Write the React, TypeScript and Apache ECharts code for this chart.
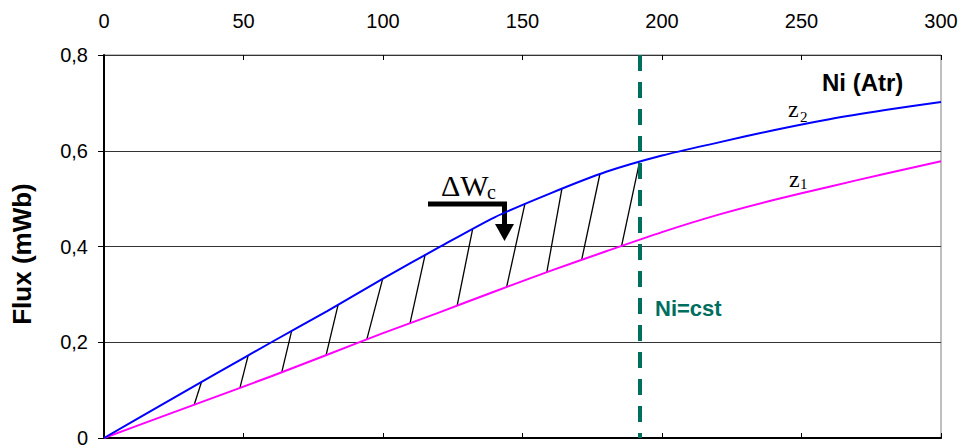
import React, { useEffect, useRef } from "react";
import * as echarts from "echarts";

// Ampere-turns (x) sample points
const niValues = [0, 20, 40, 60, 80, 100, 120, 140, 160, 180, 200, 220, 240, 260, 280, 300];
// Flux curve z2 (blue, upper)
const z2Flux = [0, 0.067, 0.134, 0.2, 0.265, 0.333, 0.398, 0.461, 0.511, 0.556, 0.59, 0.617, 0.643, 0.666, 0.685, 0.702];
// Flux curve z1 (magenta, lower)
const z1Flux = [0, 0.043, 0.086, 0.129, 0.174, 0.219, 0.262, 0.306, 0.349, 0.39, 0.43, 0.466, 0.497, 0.525, 0.552, 0.578];
// Hatch segments: lower end on z1 [Ni, flux], upper end on z2 [Ni, flux]
const hatchLower = [
  [32.3, 0.069], [48.7, 0.104], [63.7, 0.137], [79.6, 0.173], [94.2, 0.206], [109.7, 0.24],
  [126.6, 0.277], [144.3, 0.315], [158.7, 0.346], [171.2, 0.372], [185.5, 0.401],
];
const hatchUpper = [
  [35.0, 0.118], [51.7, 0.173], [67.3, 0.225], [83.9, 0.278], [99.9, 0.333], [115.1, 0.383],
  [132.1, 0.436], [150.9, 0.49], [164.1, 0.52], [177.8, 0.553], [191.9, 0.575],
];
// Constant Ni marker
const niConstant = 192;
const xMin = 0, xMax = 300, xStep = 50;
const yMin = 0, yMax = 0.8, yStep = 0.2;

const TEAL = "#006e5f";

export default function App() {
  const ref = useRef<HTMLDivElement>(null);
  useEffect(() => {
    if (!ref.current) return;
    const chart = echarts.init(ref.current, null, { renderer: "svg" });
    const hatchData = hatchLower.map((lo, i) => [lo[0], lo[1], hatchUpper[i][0], hatchUpper[i][1]]);
    const baseX = { type: "value", min: xMin, max: xMax, interval: xStep, splitLine: { show: false } } as any;
    chart.setOption({
      animation: false,
      backgroundColor: "#fff",
      grid: { left: 104, right: 20, top: 55, bottom: 5, show: true, borderColor: "#808080", borderWidth: 1 },
      xAxis: [
        {
          ...baseX,
          position: "top",
          axisLine: { show: true, lineStyle: { color: "#000", width: 1 } },
          axisTick: { show: true, inside: false, length: 5, lineStyle: { color: "#000" } },
          axisLabel: { show: true, color: "#000", fontSize: 20, fontFamily: "Arial, 'Liberation Sans', sans-serif", margin: 24 },
        },
        {
          ...baseX,
          position: "top",
          axisLine: { show: false },
          axisTick: { show: true, inside: true, length: 5, lineStyle: { color: "#000" } },
          axisLabel: { show: false },
        },
        {
          ...baseX,
          position: "bottom",
          axisLine: { show: true, lineStyle: { color: "#000", width: 2 } },
          axisTick: { show: false },
          axisLabel: { show: false },
        },
      ],
      yAxis: {
        type: "value",
        min: yMin,
        max: yMax,
        interval: yStep,
        axisLine: { show: true, lineStyle: { color: "#000", width: 2 } },
        axisTick: { show: true, inside: false, length: 6, lineStyle: { color: "#000" } },
        axisLabel: {
          color: "#000",
          fontSize: 20,
          fontFamily: "Arial, 'Liberation Sans', sans-serif",
          margin: 16,
          formatter: (v: number) => (v === 0 ? "0" : v.toFixed(1).replace(".", ",")),
        },
        splitLine: { show: true, lineStyle: { color: "#333", width: 1 } },
      },
      series: [
        {
          type: "line",
          name: "z1",
          data: niValues.map((x, i) => [x, z1Flux[i]]),
          smooth: 0.25,
          showSymbol: false,
          lineStyle: { color: "#ff00ff", width: 2 },
          silent: true,
        },
        {
          type: "line",
          name: "z2",
          data: niValues.map((x, i) => [x, z2Flux[i]]),
          smooth: 0.25,
          showSymbol: false,
          lineStyle: { color: "#0000ff", width: 2 },
          silent: true,
          markLine: {
            silent: true,
            symbol: "none",
            label: { show: false },
            lineStyle: { color: TEAL, width: 4, type: [16, 11] },
            data: [[{ coord: [niConstant, yMax] }, { coord: [niConstant, yMin] }]],
          },
        },
        {
          type: "custom",
          name: "hatch",
          silent: true,
          data: hatchData,
          encode: { x: [0, 2], y: [1, 3] },
          renderItem: (params: any, api: any) => {
            const p1 = api.coord([api.value(0), api.value(1)]);
            const p2 = api.coord([api.value(2), api.value(3)]);
            return {
              type: "line",
              shape: { x1: p1[0], y1: p1[1], x2: p2[0], y2: p2[1] },
              style: { stroke: "#000", lineWidth: 1.3 },
            };
          },
        },
      ],
      graphic: [
        {
          type: "text",
          x: 22,
          y: 254,
          rotation: Math.PI / 2,
          style: { text: "Flux (mWb)", font: "bold 26px Arial, 'Liberation Sans', sans-serif", fill: "#000", align: "center", verticalAlign: "middle" },
        },
        {
          type: "text",
          x: 822,
          y: 82,
          style: { text: "Ni (Atr)", font: "bold 24px Arial, 'Liberation Sans', sans-serif", fill: "#000", align: "left", verticalAlign: "middle" },
        },
        {
          type: "text",
          x: 655,
          y: 308,
          style: { text: "Ni=cst", font: "bold 22px Arial, 'Liberation Sans', sans-serif", fill: TEAL, align: "left", verticalAlign: "middle" },
        },
        { type: "text", x: 788, y: 109, style: { text: "z", font: "24px 'Liberation Serif', 'DejaVu Serif', serif", fill: "#000", align: "left", verticalAlign: "middle" } },
        { type: "text", x: 800, y: 117, style: { text: "2", font: "15px 'Liberation Serif', 'DejaVu Serif', serif", fill: "#000", align: "left", verticalAlign: "middle" } },
        { type: "text", x: 789, y: 179, style: { text: "z", font: "24px 'Liberation Serif', 'DejaVu Serif', serif", fill: "#000", align: "left", verticalAlign: "middle" } },
        { type: "text", x: 800, y: 184, style: { text: "1", font: "15px 'Liberation Serif', 'DejaVu Serif', serif", fill: "#000", align: "left", verticalAlign: "middle" } },
        { type: "text", x: 441, y: 185, style: { text: "ΔW", font: "30px 'Liberation Serif', 'DejaVu Serif', serif", fill: "#000", align: "left", verticalAlign: "middle" } },
        { type: "text", x: 487, y: 192, style: { text: "c", font: "20px 'Liberation Serif', 'DejaVu Serif', serif", fill: "#000", align: "left", verticalAlign: "middle" } },
        {
          type: "polyline",
          shape: { points: [[428, 204], [504.5, 204], [504.5, 226]] },
          style: { stroke: "#000", lineWidth: 5, fill: "none" },
        },
        {
          type: "polygon",
          shape: { points: [[495, 224], [514, 224], [504.5, 241]] },
          style: { fill: "#000" },
        },
      ],
    });
    return () => chart.dispose();
  }, []);
  return <div ref={ref} style={{ width: 961, height: 448, position: "absolute", left: 0, top: 0 }} />;
}
